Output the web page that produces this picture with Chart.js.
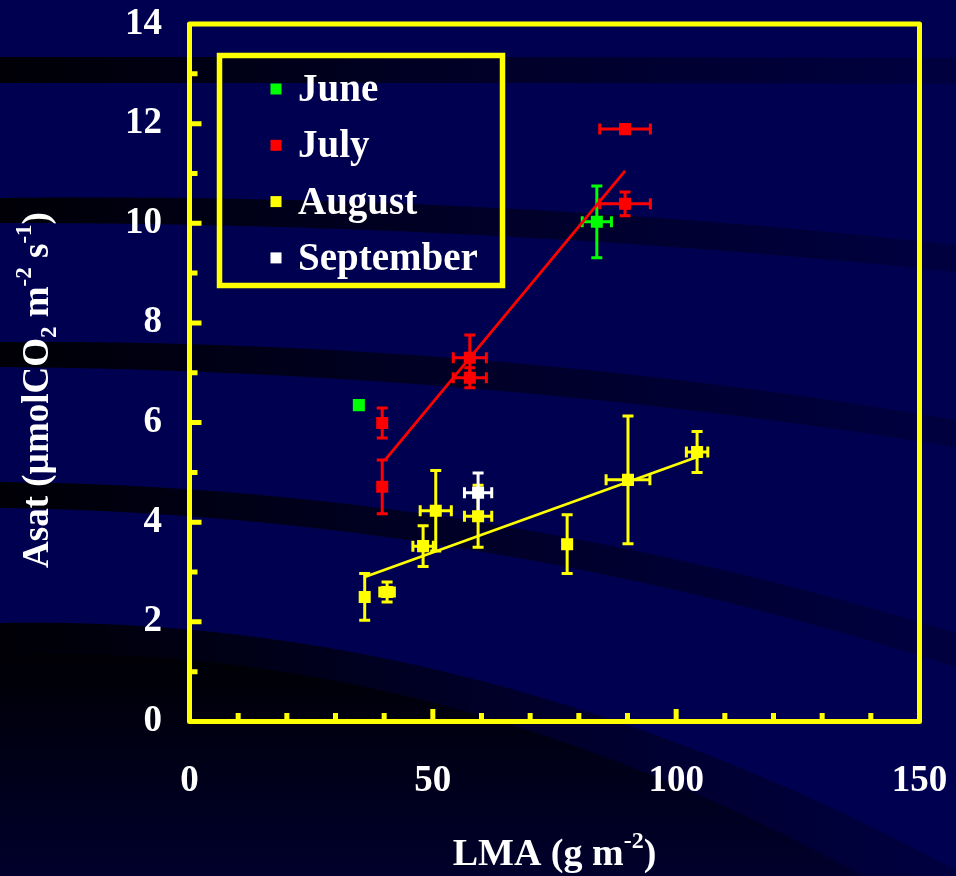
<!DOCTYPE html>
<html lang="en">
<head>
  <meta charset="UTF-8">
  <title>Asat vs LMA</title>
  <script src="https://cdn.jsdelivr.net/npm/chart.js"></script>
  <style>
    html, body {
      margin: 0;
      padding: 0;
      background: #000050;
    }
    canvas {
      display: block;
    }
  </style>
</head>
<body>

<canvas id="asatChart" width="956" height="876"></canvas>

<script>
  // Data (LMA in g m-2, Asat in umol CO2 m-2 s-1)
  const monthLabels = ['June', 'July', 'August', 'September'];
  const monthColors = ['#00ff00', '#ff0000', '#ffff00', '#ffffff'];

  const juneLMA = [34.8, 83.7];
  const juneAsat = [6.35, 10.03];
  const juneLMAErr = [0, 3.0];
  const juneAsatErr = [0, 0.72];

  const julyLMA = [39.6, 39.6, 57.6, 57.6, 89.5, 89.5];
  const julyAsat = [4.71, 5.99, 6.9, 7.3, 10.39, 11.89];
  const julyLMAErr = [0, 0, 3.4, 3.4, 5.2, 5.2];
  const julyAsatErr = [0.54, 0.3, 0.2, 0.46, 0.24, 0];

  const augustLMA = [36.0, 40.6, 48.0, 50.6, 59.3, 77.6, 90.1, 104.3];
  const augustAsat = [2.5, 2.6, 3.52, 4.23, 4.12, 3.56, 4.85, 5.41];
  const augustLMAErr = [0, 1.5, 2.1, 3.2, 2.8, 0.8, 4.5, 2.2];
  const augustAsatErr = [0.47, 0.2, 0.41, 0.81, 0.62, 0.59, 1.28, 0.41];

  const septemberLMA = [59.3];
  const septemberAsat = [4.59];
  const septemberLMAErr = [2.8];
  const septemberAsatErr = [0.4];

  // regression lines
  const julyFitLMA = [40.2, 89.5];
  const julyFitAsat = [5.25, 11.05];
  const augustFitLMA = [36.0, 104.3];
  const augustFitAsat = [2.9, 5.31];

  const xTickValues = [0, 50, 100, 150];
  const yTickValues = [0, 2, 4, 6, 8, 10, 12, 14];
  const xMinorStep = 10;
  const yMinorStep = 1;

  const FONT = "'Liberation Serif', 'Times New Roman', serif";
  const YELLOW = '#ffff00';

  function points(xs, ys) {
    return xs.map((x, i) => ({ x: x, y: ys[i] }));
  }
  function errors(xe, ye) {
    return xe.map((e, i) => ({ x: e, y: ye[i] }));
  }

  function monthSet(idx, xs, ys, xe, ye) {
    return {
      label: monthLabels[idx],
      data: points(xs, ys),
      errors: errors(xe, ye),
      legendEntry: true,
      backgroundColor: monthColors[idx],
      borderColor: monthColors[idx],
      pointStyle: 'rect',
      pointRadius: 8.5,
      pointBorderWidth: 0,
      showLine: false
    };
  }

  function fitSet(xs, ys, color) {
    return {
      label: 'fit',
      data: points(xs, ys),
      borderColor: color,
      borderWidth: 2.8,
      pointRadius: 0,
      showLine: true,
      fill: false
    };
  }

  // background: navy with dark curved bands
  function curveY(y0, y1, y2, x, w) {
    const t = x / (w / 2);
    const c = (y2 - 2 * y1 + y0) / 2;
    const b = y1 - y0 - c;
    return y0 + b * t + c * t * t;
  }

  function drawBand(ctx, w, top, bot, fill) {
    ctx.beginPath();
    for (let x = 0; x <= w; x += 4) {
      const y = curveY(top[0], top[1], top[2], x, w);
      if (x === 0) ctx.moveTo(x, y); else ctx.lineTo(x, y);
    }
    for (let x = w; x >= 0; x -= 4) {
      ctx.lineTo(x, curveY(bot[0], bot[1], bot[2], x, w));
    }
    ctx.closePath();
    ctx.fillStyle = fill;
    ctx.fill();
  }

  const backdrop = {
    id: 'backdrop',
    beforeDraw(chart) {
      const { ctx, width, height } = chart;
      ctx.save();
      ctx.fillStyle = '#000050';
      ctx.fillRect(0, 0, width, height);

      const g = ctx.createLinearGradient(0, 0, width, 0);
      g.addColorStop(0, 'rgb(0,0,6)');
      g.addColorStop(0.5, 'rgb(0,0,40)');
      g.addColorStop(1, 'rgb(0,0,64)');

      drawBand(ctx, width, [57, 57, 58], [83, 83, 84], g);
      drawBand(ctx, width, [198, 207, 245], [223, 235, 272], g);
      drawBand(ctx, width, [342, 360, 420], [367, 389, 447], g);
      drawBand(ctx, width, [482, 522, 633], [508, 551, 667], g);

      // lower dark area
      drawBand(ctx, width, [623, 680, 870], [1200, 1200, 1200], g);
      const g2 = ctx.createLinearGradient(0, 650, 0, height);
      g2.addColorStop(0, 'rgb(0,0,4)');
      g2.addColorStop(1, 'rgb(0,0,44)');
      drawBand(ctx, width, [655, 715, 930], [1200, 1200, 1200], g2);
      ctx.restore();
    }
  };

  const errorBars = {
    id: 'errorBars',
    beforeDatasetsDraw(chart) {
      const { ctx, scales: { x, y } } = chart;
      const cap = 5.5;
      chart.data.datasets.forEach(ds => {
        if (!ds.errors) return;
        ctx.save();
        ctx.strokeStyle = ds.borderColor;
        ctx.lineWidth = 3;
        ds.data.forEach((p, j) => {
          const e = ds.errors[j];
          const px = x.getPixelForValue(p.x);
          const py = y.getPixelForValue(p.y);
          ctx.beginPath();
          if (e.y) {
            const y0 = y.getPixelForValue(p.y - e.y);
            const y1 = y.getPixelForValue(p.y + e.y);
            ctx.moveTo(px, y0); ctx.lineTo(px, y1);
            ctx.moveTo(px - cap, y0); ctx.lineTo(px + cap, y0);
            ctx.moveTo(px - cap, y1); ctx.lineTo(px + cap, y1);
          }
          if (e.x) {
            const x0 = x.getPixelForValue(p.x - e.x);
            const x1 = x.getPixelForValue(p.x + e.x);
            ctx.moveTo(x0, py); ctx.lineTo(x1, py);
            ctx.moveTo(x0, py - cap); ctx.lineTo(x0, py + cap);
            ctx.moveTo(x1, py - cap); ctx.lineTo(x1, py + cap);
          }
          ctx.stroke();
        });
        ctx.restore();
      });
    }
  };

  // yellow frame with inward ticks
  const frame = {
    id: 'frame',
    afterDraw(chart) {
      const { ctx, chartArea: a, scales: { x, y } } = chart;
      ctx.save();
      ctx.strokeStyle = YELLOW;
      ctx.lineWidth = 5;
      ctx.lineJoin = 'round';
      ctx.strokeRect(a.left, a.top, a.right - a.left, a.bottom - a.top);

      ctx.lineWidth = 5;
      ctx.lineCap = 'butt';
      ctx.beginPath();
      for (let v = x.min + xMinorStep; v < x.max; v += xMinorStep) {
        const px = x.getPixelForValue(v);
        const len = xTickValues.includes(v) ? 12.5 : 8.5;
        ctx.moveTo(px, a.bottom);
        ctx.lineTo(px, a.bottom - len);
      }
      for (let v = y.min + yMinorStep; v < y.max; v += yMinorStep) {
        const py = y.getPixelForValue(v);
        const len = yTickValues.includes(v) ? 12 : 8;
        ctx.moveTo(a.left, py);
        ctx.lineTo(a.left + len, py);
      }
      ctx.stroke();
      ctx.restore();
    }
  };

  const boxLegend = {
    id: 'boxLegend',
    afterDraw(chart) {
      const { ctx, chartArea: a } = chart;
      const left = a.left + 30;
      const top = a.top + 31.5;
      ctx.save();
      ctx.strokeStyle = YELLOW;
      ctx.lineWidth = 5.5;
      ctx.strokeRect(left, top, 283, 230);

      ctx.font = 'bold 39px ' + FONT;
      ctx.textBaseline = 'alphabetic';
      ctx.textAlign = 'left';
      let row = 0;
      chart.data.datasets.forEach(ds => {
        if (!ds.legendEntry) return;
        const cy = top + 33.5 + row * 56.3;
        ctx.fillStyle = ds.backgroundColor;
        ctx.fillRect(left + 51, cy - 5.5, 11, 11);
        ctx.fillStyle = '#ffffff';
        ctx.fillText(ds.label, left + 78.5, cy + 12);
        row++;
      });
      ctx.restore();
    }
  };

  // axis titles with super/subscripts
  function drawRich(ctx, parts, size) {
    const small = Math.round(size * 0.62);
    let total = 0;
    parts.forEach(p => {
      ctx.font = 'bold ' + (p.sup || p.sub ? small : size) + 'px ' + FONT;
      p.w = ctx.measureText(p.t).width;
      total += p.w;
    });
    let cx = -total / 2;
    parts.forEach(p => {
      ctx.font = 'bold ' + (p.sup || p.sub ? small : size) + 'px ' + FONT;
      const dy = p.sup ? -size * 0.45 : (p.sub ? size * 0.22 : 0);
      ctx.fillText(p.t, cx, dy);
      cx += p.w;
    });
  }

  const axisTitles = {
    id: 'axisTitles',
    afterDraw(chart) {
      const { ctx } = chart;
      ctx.save();
      ctx.fillStyle = '#ffffff';
      ctx.textAlign = 'left';
      ctx.textBaseline = 'alphabetic';

      ctx.save();
      ctx.translate(554.5, 865);
      drawRich(ctx, [{ t: 'LMA (g m' }, { t: '-2', sup: true }, { t: ')' }], 38);
      ctx.restore();

      ctx.save();
      ctx.translate(48, 390);
      ctx.rotate(-Math.PI / 2);
      drawRich(ctx, [
        { t: 'Asat (\u00b5molCO' }, { t: '2', sub: true },
        { t: ' m' }, { t: '-2', sup: true },
        { t: ' s' }, { t: '-1', sup: true }, { t: ')' }
      ], 37);
      ctx.restore();

      ctx.restore();
    }
  };

  const tickFont = { family: FONT, size: 37, weight: 'bold' };

  const ctx = document.getElementById('asatChart').getContext('2d');
  new Chart(ctx, {
    type: 'scatter',
    data: {
      datasets: [
        monthSet(0, juneLMA, juneAsat, juneLMAErr, juneAsatErr),
        monthSet(1, julyLMA, julyAsat, julyLMAErr, julyAsatErr),
        monthSet(2, augustLMA, augustAsat, augustLMAErr, augustAsatErr),
        monthSet(3, septemberLMA, septemberAsat, septemberLMAErr, septemberAsatErr),
        fitSet(julyFitLMA, julyFitAsat, '#ff0000'),
        fitSet(augustFitLMA, augustFitAsat, YELLOW)
      ]
    },
    options: {
      responsive: false,
      animation: false,
      layout: { padding: { top: 24, right: 36.5, bottom: 0, left: 0 } },
      plugins: {
        legend: { display: false },
        tooltip: { enabled: false }
      },
      scales: {
        x: {
          type: 'linear',
          min: 0,
          max: 150,
          afterBuildTicks: s => { s.ticks = xTickValues.map(v => ({ value: v })); },
          afterFit: s => {
            s.height = 154.5;
            s.paddingLeft = 0;
            s.paddingRight = 0;
          },
          grid: { display: false, drawTicks: false },
          border: { display: false },
          ticks: { color: '#ffffff', font: tickFont, padding: 38, maxRotation: 0 }
        },
        y: {
          type: 'linear',
          min: 0,
          max: 14,
          afterBuildTicks: s => { s.ticks = yTickValues.map(v => ({ value: v })); },
          afterFit: s => {
            s.width = 189.5;
            s.paddingTop = 0;
            s.paddingBottom = 0;
          },
          grid: { display: false, drawTicks: false },
          border: { display: false },
          ticks: { color: '#ffffff', font: tickFont, padding: 27.5 }
        }
      }
    },
    plugins: [backdrop, errorBars, frame, boxLegend, axisTitles]
  });
</script>

</body>
</html>
